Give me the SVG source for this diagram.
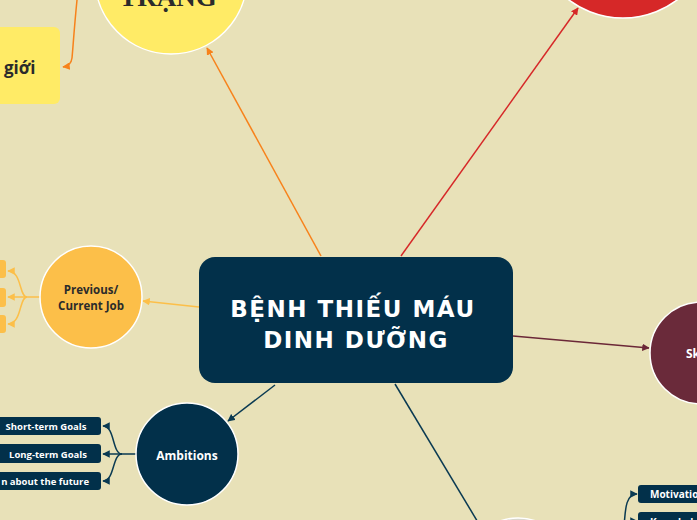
<svg xmlns="http://www.w3.org/2000/svg" width="697" height="520" viewBox="0 0 697 520">
<style>
.lbl{font-family:"Open Sans","Noto Sans","DejaVu Sans",sans-serif;font-weight:bold}
.w{fill:#ffffff}
.d{fill:#2b2b2b}
.circ{stroke:#ffffff;stroke-width:1.5}
.conn{fill:none;stroke-width:1.5}
</style>
<defs>
<marker id="aO" viewBox="0 0 10 10" refX="9" refY="5" markerWidth="5" markerHeight="5" orient="auto"><path d="M0,0 L10,5 L0,10 Z" fill="#F7821B"/></marker>
<marker id="aR" viewBox="0 0 10 10" refX="9" refY="5" markerWidth="5" markerHeight="5" orient="auto"><path d="M0,0 L10,5 L0,10 Z" fill="#D62828"/></marker>
<marker id="aM" viewBox="0 0 10 10" refX="9" refY="5" markerWidth="5" markerHeight="5" orient="auto"><path d="M0,0 L10,5 L0,10 Z" fill="#6B2737"/></marker>
<marker id="aY" viewBox="0 0 10 10" refX="9" refY="5" markerWidth="5" markerHeight="5" orient="auto"><path d="M0,0 L10,5 L0,10 Z" fill="#FCBF49"/></marker>
<marker id="aN" viewBox="0 0 10 10" refX="9" refY="5" markerWidth="5" markerHeight="5" orient="auto"><path d="M0,0 L10,5 L0,10 Z" fill="#0A3A52"/></marker>
</defs>
<rect x="0" y="0" width="697" height="520" fill="#E8E1B8"/>

<g id="connectors">
<path class="conn" stroke="#F7821B" d="M321,256 L207,48" marker-end="url(#aO)"/>
<path class="conn" stroke="#F7821B" d="M77,0 C74,30 73,48 72,58 Q71,66 63,67" marker-end="url(#aO)"/>
<path class="conn" stroke="#D62828" d="M401,256 L578,8" marker-end="url(#aR)"/>
<path class="conn" stroke="#6B2737" d="M513,336 L649,348" marker-end="url(#aM)"/>
<path class="conn" stroke="#FCBF49" d="M199,307 L143,301" marker-end="url(#aY)"/>
<path class="conn" stroke="#FCBF49" d="M40,297 L27,297 C19,297 22,271 8,271" marker-end="url(#aY)"/>
<path class="conn" stroke="#FCBF49" d="M27,297 L8,297" marker-end="url(#aY)"/>
<path class="conn" stroke="#FCBF49" d="M27,297 C19,297 22,324 8,324" marker-end="url(#aY)"/>
<path class="conn" stroke="#0A3A52" d="M275,385 L228,421" marker-end="url(#aN)"/>
<path class="conn" stroke="#0A3A52" d="M136,454 L122,454 C112,454 115,426 103,426" marker-end="url(#aN)"/>
<path class="conn" stroke="#0A3A52" d="M122,454 L103,454" marker-end="url(#aN)"/>
<path class="conn" stroke="#0A3A52" d="M122,454 C112,454 115,481 103,481" marker-end="url(#aN)"/>
<path class="conn" stroke="#0A3A52" d="M395,384 L479,524"/>
<path class="conn" stroke="#0A3A52" d="M624,530 C625,505 627,494 637,494" marker-end="url(#aN)"/>
<path class="conn" stroke="#0A3A52" d="M624,527 Q626,521 637,521" marker-end="url(#aN)"/>
</g>

<g id="central">
<rect x="199" y="257" width="314" height="126" rx="16" fill="#02304A"/>
<text x="353" y="317" text-anchor="middle" font-family="DejaVu Sans, sans-serif" font-weight="bold" font-size="23" letter-spacing="1.5" class="w">BỆNH THIẾU MÁU</text>
<text x="356" y="348" text-anchor="middle" font-family="DejaVu Sans, sans-serif" font-weight="bold" font-size="23" letter-spacing="1.5" class="w">DINH DƯỠNG</text>
</g>

<g id="node-thuc-trang">
<circle cx="171" cy="-22" r="76" fill="#FFEB66" class="circ"/>
<text x="168" y="6" text-anchor="middle" font-family="Liberation Serif, serif" font-weight="bold" font-size="27" class="d">TRẠNG</text>
</g>

<g id="node-gioi">
<rect x="-20" y="27" width="80" height="77" rx="6" fill="#FFEB66"/>
<text x="4" y="74" font-size="17" class="lbl d">giới</text>
</g>

<g id="node-red">
<circle cx="623" cy="-72" r="90" fill="#D62828" class="circ"/>
</g>

<g id="node-skills">
<circle cx="701" cy="353" r="51" fill="#6A2A3A" class="circ"/>
<text x="686" y="358" font-size="12" class="lbl w">Sk</text>
</g>

<g id="node-previous">
<circle cx="91" cy="297" r="51" fill="#FCBF49" class="circ"/>
<text x="91" y="294" text-anchor="middle" font-size="11.5" class="lbl d">Previous/</text>
<text x="91" y="310" text-anchor="middle" font-size="11.5" class="lbl d">Current Job</text>
</g>
<g id="node-prev-1"><rect x="-14" y="260" width="20" height="18" rx="3" fill="#FCBF49"/></g>
<g id="node-prev-2"><rect x="-14" y="288" width="20" height="19" rx="3" fill="#FCBF49"/></g>
<g id="node-prev-3"><rect x="-14" y="315" width="20" height="18" rx="3" fill="#FCBF49"/></g>

<g id="node-ambitions">
<circle cx="187" cy="454" r="51" fill="#02304A" class="circ"/>
<text x="187" y="460" text-anchor="middle" font-size="12" class="lbl w">Ambitions</text>
</g>
<g id="node-short">
<rect x="-10" y="417" width="111" height="18" rx="3" fill="#02304A"/>
<text x="46" y="430" text-anchor="middle" font-size="9.5" class="lbl w">Short-term Goals</text>
</g>
<g id="node-long">
<rect x="-10" y="444" width="111" height="19" rx="3" fill="#02304A"/>
<text x="48" y="458" text-anchor="middle" font-size="9.5" class="lbl w">Long-term Goals</text>
</g>
<g id="node-future">
<rect x="-40" y="472" width="141" height="18" rx="3" fill="#02304A"/>
<text x="89" y="485" text-anchor="end" font-size="9.5" class="lbl w">n about the future</text>
</g>

<g id="node-bottom">
<circle cx="518" cy="570" r="52" fill="#D8D6CC" class="circ"/>
</g>
<g id="node-motivation">
<rect x="638" y="485" width="90" height="18" rx="3" fill="#02304A"/>
<text x="650" y="498" font-size="10" class="lbl w">Motivation</text>
</g>
<g id="node-knowledge">
<rect x="638" y="512" width="90" height="18" rx="3" fill="#02304A"/>
<text x="650" y="526" font-size="10" class="lbl w">Knowledge</text>
</g>
</svg>
